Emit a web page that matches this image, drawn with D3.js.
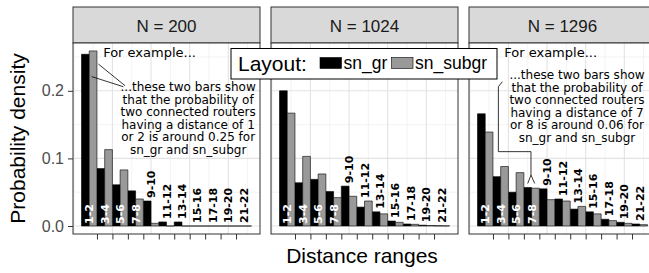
<!DOCTYPE html>
<html>
<head>
<meta charset="utf-8">
<script src="https://cdn.jsdelivr.net/npm/d3@7"></script>
<style>
  body { margin: 0; background: #fff; }
  svg { display: block; }
</style>
</head>
<body>
<div id="viz"></div>
<script>
// distance ranges (one group of two bars each)
var ranges = ["1-2", "3-4", "5-6", "7-8", "9-10", "11-12", "13-14", "15-16", "17-18", "19-20", "21-22"];
var panels = ["N = 200", "N = 1024", "N = 1296"];
var layouts = ["sn_gr", "sn_subgr"];

// probability density
var gr200 = [0.254, 0.085, 0.061, 0.052, 0.037, 0.006, 0.006, 0, 0, 0, 0];
var subgr200 = [0.259, 0.113, 0.083, 0.040, 0.004, 0, 0, 0, 0, 0, 0];
var gr1024 = [0.200, 0.064, 0.069, 0.051, 0.059, 0.028, 0.021, 0.0074, 0.003, 0.0012, 0.0004];
var subgr1024 = [0.167, 0.103, 0.077, 0.042, 0.044, 0.037, 0.018, 0.0055, 0.0025, 0.0008, 0.0003];
var gr1296 = [0.166, 0.073, 0.050, 0.057, 0.055, 0.040, 0.025, 0.021, 0.010, 0.0055, 0.003];
var subgr1296 = [0.139, 0.088, 0.079, 0.056, 0.039, 0.037, 0.029, 0.018, 0.008, 0.004, 0.002];

var yTicks = [0, 0.1, 0.2];

var series = [[gr200, subgr200], [gr1024, subgr1024], [gr1296, subgr1296]];

// set the dimensions
var width = 649, height = 273;
var panelLeft = 73, panelW = 187, panelGap = 11;
var stripTop = 7, plotTop = 43, plotBottom = 234;
var plotH = plotBottom - plotTop;

var fills = ["#000000", "#999999"];

var svg = d3.select("#viz").append("svg")
  .attr("width", width)
  .attr("height", height);

// x is the group index, 1..11
var x = d3.scaleLinear().domain([-0.05, 12.05]).range([0, panelW]);
var y = d3.scaleLinear().domain([-0.0118, 0.2707]).range([plotH, 0]);

var xMajor = [0, 2.5, 5, 7.5, 10];
var xMinor = [1.25, 3.75, 6.25, 8.75, 11.25];
var yMajor = [0, 0.1, 0.2];
var yMinor = [0.05, 0.15, 0.25];
var xTicks = d3.range(1.5, 11, 1);

panels.forEach(function (name, p) {
  var left = panelLeft + p * (panelW + panelGap);

  // strip
  svg.append("rect")
    .attr("x", left).attr("y", stripTop)
    .attr("width", panelW).attr("height", plotTop - stripTop)
    .attr("fill", "#d9d9d9").attr("stroke", "#333").attr("stroke-width", 1);
  svg.append("text")
    .attr("x", left + panelW / 2).attr("y", 31.5)
    .attr("text-anchor", "middle")
    .attr("font-family", "Liberation Sans, Arial, sans-serif")
    .attr("font-size", 17).attr("fill", "#1a1a1a")
    .text(name);

  var g = svg.append("g").attr("transform", "translate(" + left + "," + plotTop + ")");

  g.append("rect").attr("width", panelW).attr("height", plotH).attr("fill", "#fff");

  // grid
  g.selectAll(".gminx").data(xMinor).enter().append("line")
    .attr("x1", x).attr("x2", x).attr("y1", 0).attr("y2", plotH)
    .attr("stroke", "#ebebeb").attr("stroke-width", 0.6);
  g.selectAll(".gminy").data(yMinor).enter().append("line")
    .attr("y1", y).attr("y2", y).attr("x1", 0).attr("x2", panelW)
    .attr("stroke", "#ebebeb").attr("stroke-width", 0.6);
  g.selectAll(".gmajx").data(xMajor).enter().append("line")
    .attr("x1", x).attr("x2", x).attr("y1", 0).attr("y2", plotH)
    .attr("stroke", "#e3e3e3").attr("stroke-width", 1.1);
  g.selectAll(".gmajy").data(yMajor).enter().append("line")
    .attr("y1", y).attr("y2", y).attr("x1", 0).attr("x2", panelW)
    .attr("stroke", "#e3e3e3").attr("stroke-width", 1.1);

  // bars (drawn as outlined paths so zero-height bars still leave a line)
  series[p].forEach(function (vals, s) {
    g.selectAll(".bar" + s).data(vals).enter().append("path")
      .attr("d", function (d, i) {
        var x0 = x(i + 1 - 0.5 + s * 0.5), x1 = x(i + 1 + s * 0.5);
        return "M" + x0 + "," + y(0) + "V" + y(d) + "H" + x1 + "V" + y(0) + "Z";
      })
      .attr("fill", fills[s])
      .attr("stroke", "#000").attr("stroke-width", 0.6);
  });

  // range labels
  ranges.forEach(function (r, i) {
    var inside = i < 4;
    var top = Math.max(series[p][0][i], series[p][1][i]);
    var ly = inside ? y(0) - 2 : y(top) - 3;
    g.append("text")
      .attr("transform", "translate(" + (x(i + 1) + 4) + "," + ly + ") rotate(-90)")
      .attr("font-family", "DejaVu Sans, sans-serif")
      .attr("font-weight", "bold")
      .attr("font-size", 11)
      .attr("fill", inside ? "#fff" : "#000")
      .text(r);
  });

  // panel border
  g.append("rect").attr("width", panelW).attr("height", plotH)
    .attr("fill", "none").attr("stroke", "#333").attr("stroke-width", 1);

  // x ticks
  g.append("g")
    .attr("transform", "translate(0," + plotH + ")")
    .call(d3.axisBottom(x).tickValues(xTicks).tickSize(5.5).tickFormat(""))
    .call(function (a) {
      a.select(".domain").remove();
      a.selectAll("line").attr("stroke", "#333");
    });

  if (p === 0) {
    g.append("g")
      .call(d3.axisLeft(y).tickValues(yTicks).tickSize(5).tickPadding(4).tickFormat(d3.format(".1f")))
      .call(function (a) {
        a.select(".domain").remove();
        a.selectAll("line").attr("stroke", "#333");
        a.selectAll("text")
          .attr("font-family", "Liberation Sans, Arial, sans-serif")
          .attr("font-size", 16).attr("fill", "#4d4d4d");
      });
  }
});

// annotations
var ann = { family: "DejaVu Sans, sans-serif", size: 12, lh: 12.5 };
var note1 = ["...these two bars show", "that the probability of", "two connected routers",
  "having a distance of 1", "or 2 is around 0.25 for", "sn_gr and sn_subgr"];
var note3 = ["...these two bars show", "that the probability of", "two connected routers",
  "having a distance of 7", "or 8 is around 0.06 for", "sn_gr and sn_subgr"];
var forEx = [[1.9, 0.25], [2.23, 0.25]];
var noteAt = [[7.4, 0.199], [6.94, 0.217]];
var pointer1 = [[[1.59, 0.2396], [3.32, 0.2075]], [[1.16, 0.221], [3.21, 0.206]]];
var pointer3 = [[2.11, 0.2135], [1.85, 0.206], [1.85, 0.11], [3.96, 0.11], [3.96, 0.0754]];
var arrow3 = [[3.75, 0.063], [3.96, 0.0754], [4.2, 0.063]];

[[0, note1], [2, note3]].forEach(function (a, k) {
  var p = a[0];
  var left = panelLeft + p * (panelW + panelGap);
  var g = svg.append("g").attr("transform", "translate(" + left + "," + plotTop + ")");
  g.append("text")
    .attr("x", x(forEx[k][0])).attr("y", y(forEx[k][1]))
    .attr("font-family", ann.family).attr("font-size", 13)
    .text("For example...");
  var t = g.append("text")
    .attr("text-anchor", "middle")
    .attr("font-family", ann.family).attr("font-size", ann.size);
  a[1].forEach(function (line, j) {
    t.append("tspan")
      .attr("x", x(noteAt[k][0]))
      .attr("y", y(noteAt[k][1]) + j * ann.lh)
      .text(line);
  });
  var ln = d3.line().x(function (d) { return x(d[0]); }).y(function (d) { return y(d[1]); });
  if (p === 0) {
    pointer1.forEach(function (seg) {
      g.append("path").attr("d", ln(seg)).attr("fill", "none")
        .attr("stroke", "#000").attr("stroke-width", 0.8);
    });
  } else {
    g.append("path").attr("d", ln(pointer3)).attr("fill", "none")
      .attr("stroke", "#000").attr("stroke-width", 0.8);
    g.append("path").attr("d", ln(arrow3)).attr("fill", "none")
      .attr("stroke", "#000").attr("stroke-width", 0.8);
  }
});

// legend
var lg = svg.append("g");
lg.append("rect").attr("x", 231).attr("y", 48.5).attr("width", 266).attr("height", 30.5)
  .attr("fill", "#fff").attr("stroke", "#000").attr("stroke-width", 1);
lg.append("text").attr("x", 238).attr("y", 71)
  .attr("font-family", "Liberation Sans, Arial, sans-serif").attr("font-size", 21)
  .text("Layout:");
var keyX = [320, 391.5], labX = [343.5, 415];
layouts.forEach(function (name, s) {
  lg.append("rect").attr("x", keyX[s]).attr("y", 57.5).attr("width", 21.5).attr("height", 11)
    .attr("fill", fills[s]).attr("stroke", "#000").attr("stroke-width", 0.6);
  lg.append("text").attr("x", labX[s]).attr("y", 69)
    .attr("font-family", "Liberation Sans, Arial, sans-serif").attr("font-size", 17.5)
    .text(name);
});

// axis titles
svg.append("text")
  .attr("transform", "translate(25," + (plotTop + plotH / 2) + ") rotate(-90)")
  .attr("text-anchor", "middle")
  .attr("font-family", "Liberation Sans, Arial, sans-serif").attr("font-size", 21)
  .text("Probability density");
svg.append("text")
  .attr("x", 362).attr("y", 263)
  .attr("text-anchor", "middle")
  .attr("font-family", "Liberation Sans, Arial, sans-serif").attr("font-size", 21)
  .text("Distance ranges");
</script>
</body>
</html>
